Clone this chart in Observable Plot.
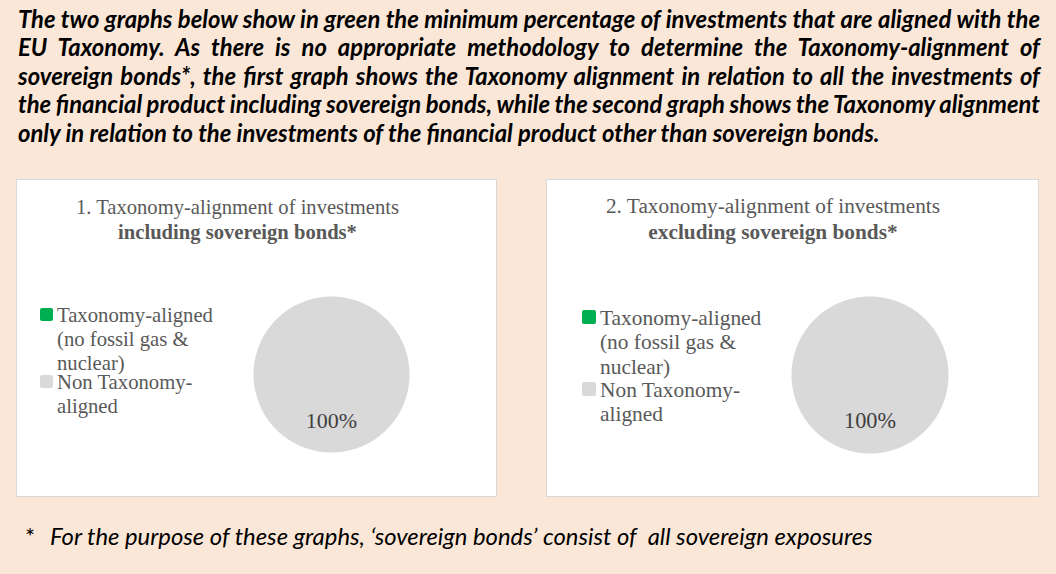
<!DOCTYPE html>
<html>
<head>
<meta charset="utf-8">
<script src="https://cdn.jsdelivr.net/npm/d3@7"></script>
<script src="https://cdn.jsdelivr.net/npm/@observablehq/plot@0.6"></script>
<style>
  html, body { margin: 0; padding: 0; }
  body { width: 1056px; height: 574px; position: relative; overflow: hidden; background: #FBE7D7; }
  #header { position: absolute; left: 18px; top: 5px; width: 1022px; font-family: Lato, "Open Sans", sans-serif;
            font-weight: bold; font-style: italic; font-size: 23.5px; line-height: 28.4px; color: #000; }
  #header .l { display: block; white-space: nowrap; text-align: justify; text-align-last: justify; }
  #header .l.last { text-align-last: left; }
  #footnote { position: absolute; left: 25px; top: 522px; font-family: Lato, "Open Sans", sans-serif; font-style: italic;
              font-size: 23.5px; line-height: 28px; color: #000; white-space: pre; }
  #footnote .star { display: inline-block; width: 25px; font-style: normal; }
  .measure { display: inline-block; white-space: pre; }
  .panel { position: absolute; top: 179px; height: 318px; background: #fff; border: 1px solid #D9D9D9; box-sizing: border-box; }
  .title { position: absolute; left: 0; text-align: center; font-family: "Liberation Serif", "Times New Roman", serif; color: #595959; }
  .legend { position: absolute; font-family: "Liberation Serif", "Times New Roman", serif; color: #595959; }
  .entry { display: flex; align-items: flex-start; }
  .sw { flex: none; border-radius: 2px; }
  .pie { position: absolute; }
</style>
</head>
<body>
<div id="header"></div>
<div id="footnote"></div>
<script>
// ---------------- data ----------------
const categories = ["Taxonomy-aligned (no fossil gas & nuclear)", "Non Taxonomy-aligned"];
const categoryColors = ["#00B050", "#D9D9D9"];
const chart1Share = [0, 100];
const chart2Share = [0, 100];
const chart1Title = ["1. Taxonomy-alignment of investments", "including sovereign bonds*"];
const chart2Title = ["2. Taxonomy-alignment of investments", "excluding sovereign bonds*"];
const introLines = [
  "The two graphs below show in green the minimum percentage of investments that are aligned with the",
  "EU Taxonomy. As there is no appropriate methodology to determine the Taxonomy-alignment of",
  "sovereign bonds*, the first graph shows the Taxonomy alignment in relation to all the investments of",
  "the financial product including sovereign bonds, while the second graph shows the Taxonomy alignment",
  "only in relation to the investments of the financial product other than sovereign bonds."
];
const footnoteMark = "*";
const footnoteText = "For the purpose of these graphs, \u2018sovereign bonds\u2019 consist of  all sovereign exposures";

function measure(el, text) {
  const probe = document.createElement("span");
  probe.className = "measure";
  probe.textContent = text;
  el.appendChild(probe);
  const w = probe.getBoundingClientRect().width;
  el.removeChild(probe);
  return w;
}
// fit font size of an element so that a given text spans the target width
function fitSize(el, text, target) {
  const fs = parseFloat(getComputedStyle(el).fontSize);
  el.style.fontSize = (fs * target / measure(el, text)) + "px";
}

// ---------------- header & footnote ----------------
const header = document.getElementById("header");
fitSize(header, introLines[introLines.length - 1], 862);
const boxW = 1022;
introLines.forEach((t, i) => {
  const s = document.createElement("span");
  s.className = "l" + (i === introLines.length - 1 ? " last" : "");
  const w = measure(header, t);
  if (w > boxW) {
    const spaces = (t.match(/ /g) || []).length;
    s.style.wordSpacing = ((boxW - w) / spaces) + "px";
  }
  s.textContent = t;
  header.appendChild(s);
});
const fn = document.getElementById("footnote");
fitSize(fn, footnoteText, 823);
const star = document.createElement("span"); star.className = "star"; star.textContent = footnoteMark;
fn.appendChild(star);
fn.appendChild(document.createTextNode(footnoteText));

// ---------------- panels ----------------
const panels = [
  {title: chart1Title, values: chart1Share, left: 16, width: 481, titleW: 441, titleTop: 14.5, fs: 20.6, lh: 25,
   legLeft: 23, legTop: 122.6, legFs: 20.7, legLh: 24, sw: 13, swTop: 5, gap: 4, legW: 172, entryGap: -4.5,
   cx: 315, cy: 195, r: 78, labelFs: 22},
  {title: chart2Title, values: chart2Share, left: 546, width: 493, titleW: 452, titleTop: 14, fs: 21.3, lh: 25.5,
   legLeft: 35, legTop: 125.5, legFs: 21.4, legLh: 24.5, sw: 14, swTop: 4.5, gap: 4, legW: 178, entryGap: -1.5,
   cx: 323.5, cy: 195, r: 78.5, labelFs: 22.3}
];

panels.forEach(p => {
  const panel = document.createElement("div");
  panel.className = "panel";
  panel.style.left = p.left + "px";
  panel.style.width = p.width + "px";
  document.body.appendChild(panel);

  const title = document.createElement("div");
  title.className = "title";
  title.style.width = p.titleW + "px";
  title.style.top = p.titleTop + "px";
  title.style.fontSize = p.fs + "px";
  title.style.lineHeight = p.lh + "px";
  const t1 = document.createElement("div"); t1.textContent = p.title[0];
  const t2 = document.createElement("div"); t2.style.fontWeight = "bold"; t2.textContent = p.title[1];
  title.appendChild(t1); title.appendChild(t2);
  panel.appendChild(title);

  const legend = document.createElement("div");
  legend.className = "legend";
  legend.style.left = p.legLeft + "px";
  legend.style.top = p.legTop + "px";
  legend.style.fontSize = p.legFs + "px";
  legend.style.lineHeight = p.legLh + "px";
  categories.forEach((c, i) => {
    const e = document.createElement("div");
    e.className = "entry";
    if (i > 0) e.style.marginTop = p.entryGap + "px";
    const sw = document.createElement("div");
    sw.className = "sw";
    sw.style.width = p.sw + "px"; sw.style.height = p.sw + "px";
    sw.style.marginTop = p.swTop + "px"; sw.style.marginRight = p.gap + "px";
    sw.style.background = categoryColors[i];
    const tx = document.createElement("div");
    tx.style.width = p.legW + "px";
    tx.textContent = c;
    e.appendChild(sw); e.appendChild(tx);
    legend.appendChild(e);
  });
  panel.appendChild(legend);

  // pie via Plot
  const data = categories.map((c, i) => ({category: c, value: p.values[i]}));
  const arcs = d3.pie().sort(null).value(d => d.value)(data);
  const pts = [];
  const labels = [];
  arcs.forEach(a => {
    const span = a.endAngle - a.startAngle;
    const n = Math.max(2, Math.ceil(span / (2 * Math.PI) * 240));
    pts.push({category: a.data.category, x: 0, y: 0});
    for (let j = 0; j <= n; j++) {
      const th = a.startAngle + span * j / n;
      pts.push({category: a.data.category, x: Math.sin(th), y: Math.cos(th)});
    }
    pts.push({category: a.data.category, x: 0, y: 0});
    if (a.data.value > 0) {
      const mid = (a.startAngle + a.endAngle) / 2;
      const rho = 0.59;
      labels.push({x: rho * Math.sin(mid), y: rho * Math.cos(mid), text: Math.round(a.data.value) + "%"});
    }
  });
  const m = 4;
  const W = 2 * p.r + 2 * m;
  const chart = Plot.plot({
    width: W, height: W,
    marginTop: m, marginRight: m, marginBottom: m, marginLeft: m,
    x: {domain: [-1, 1], axis: null},
    y: {domain: [-1, 1], axis: null},
    color: {domain: categories, range: categoryColors},
    style: {background: "transparent", overflow: "visible", fontFamily: "'Liberation Serif', 'Times New Roman', serif"},
    marks: [
      Plot.line(pts, {x: "x", y: "y", z: "category", fill: "category", stroke: null, curve: "linear"}),
      Plot.text(labels, {x: "x", y: "y", text: "text", fontSize: p.labelFs, fill: "#404040"})
    ]
  });
  const holder = document.createElement("div");
  holder.className = "pie";
  holder.style.left = (p.cx - W / 2 - 1) + "px";
  holder.style.top = (p.cy - W / 2 - 1) + "px";
  holder.appendChild(chart);
  panel.appendChild(holder);
});
</script>
</body>
</html>
